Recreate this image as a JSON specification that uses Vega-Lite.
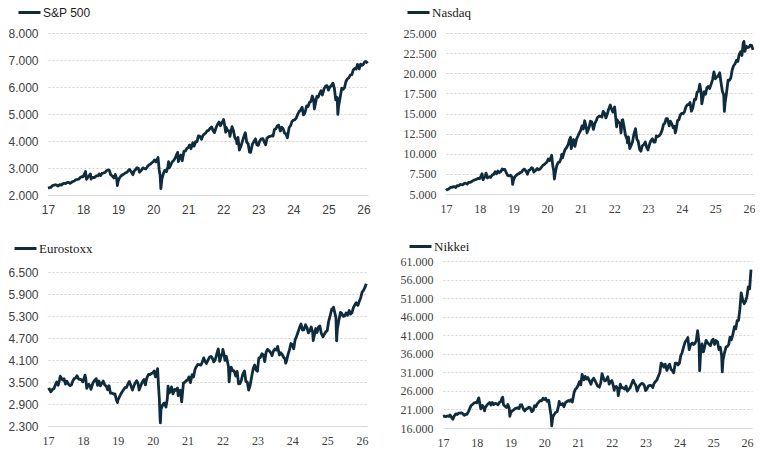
{
"$schema": "https://vega.github.io/schema/vega-lite/v6.json",
"padding": {"left": 7, "top": 0, "right": 0, "bottom": 0},
"background": "#ffffff",
"config": {
  "view": {"stroke": null},
  "locale": {"number": {"decimal": ",", "thousands": ".", "grouping": [3], "currency": ["", " €"]}},
  "axisX": {"grid": false, "ticks": false, "domain": true, "domainColor": "#d9d9d9", "domainWidth": 1, "labelFontSize": 12, "labelColor": "#404040", "labelPadding": 9, "title": null, "labelFlush": false, "values": [17,18,19,20,21,22,23,24,25,26], "format": "d"},
  "axisY": {"grid": true, "gridColor": "#d0d0d0", "gridDash": [2,2], "gridWidth": 1, "domain": false, "ticks": false, "labelFontSize": 12, "labelColor": "#404040", "labelPadding": 10, "title": null, "format": ",.0f"},
  "legend": {"orient": "none", "title": null, "symbolType": "stroke", "symbolSize": 484, "symbolStrokeWidth": 3, "labelOffset": 1, "labelColor": "#1a1a1a", "padding": 0, "labelFontSize": 13}
},
"datasets": {
"sp": [{"t":17,"v":2257},{"t":17.04,"v":2270},{"t":17.08,"v":2279},{"t":17.13,"v":2350},{"t":17.17,"v":2364},{"t":17.21,"v":2380},{"t":17.25,"v":2363},{"t":17.29,"v":2330},{"t":17.33,"v":2384},{"t":17.38,"v":2365},{"t":17.42,"v":2412},{"t":17.46,"v":2435},{"t":17.5,"v":2423},{"t":17.54,"v":2460},{"t":17.58,"v":2470},{"t":17.63,"v":2430},{"t":17.67,"v":2471},{"t":17.71,"v":2500},{"t":17.75,"v":2519},{"t":17.79,"v":2560},{"t":17.83,"v":2575},{"t":17.88,"v":2585},{"t":17.92,"v":2648},{"t":17.96,"v":2680},{"t":18,"v":2674},{"t":18.04,"v":2780},{"t":18.07,"v":2873},{"t":18.1,"v":2581},{"t":18.17,"v":2714},{"t":18.21,"v":2783},{"t":18.23,"v":2588},{"t":18.25,"v":2641},{"t":18.29,"v":2656},{"t":18.33,"v":2648},{"t":18.38,"v":2712},{"t":18.42,"v":2705},{"t":18.46,"v":2780},{"t":18.5,"v":2718},{"t":18.54,"v":2800},{"t":18.58,"v":2816},{"t":18.63,"v":2840},{"t":18.67,"v":2902},{"t":18.71,"v":2930},{"t":18.75,"v":2914},{"t":18.79,"v":2750},{"t":18.83,"v":2711},{"t":18.88,"v":2632},{"t":18.92,"v":2760},{"t":18.96,"v":2600},{"t":18.98,"v":2351},{"t":19,"v":2507},{"t":19.04,"v":2630},{"t":19.08,"v":2704},{"t":19.13,"v":2750},{"t":19.17,"v":2784},{"t":19.21,"v":2822},{"t":19.25,"v":2834},{"t":19.29,"v":2905},{"t":19.33,"v":2946},{"t":19.38,"v":2850},{"t":19.42,"v":2752},{"t":19.46,"v":2890},{"t":19.5,"v":2942},{"t":19.54,"v":3013},{"t":19.58,"v":2980},{"t":19.61,"v":2844},{"t":19.67,"v":2926},{"t":19.71,"v":3006},{"t":19.75,"v":2977},{"t":19.79,"v":2966},{"t":19.83,"v":3038},{"t":19.88,"v":3120},{"t":19.92,"v":3141},{"t":19.96,"v":3191},{"t":20,"v":3231},{"t":20.04,"v":3300},{"t":20.08,"v":3226},{"t":20.14,"v":3386},{"t":20.17,"v":2954},{"t":20.2,"v":2711},{"t":20.22,"v":2237},{"t":20.25,"v":2585},{"t":20.29,"v":2783},{"t":20.33,"v":2912},{"t":20.38,"v":2864},{"t":20.42,"v":3044},{"t":20.44,"v":3232},{"t":20.46,"v":3002},{"t":20.5,"v":3100},{"t":20.54,"v":3225},{"t":20.58,"v":3271},{"t":20.63,"v":3373},{"t":20.67,"v":3500},{"t":20.7,"v":3580},{"t":20.72,"v":3237},{"t":20.75,"v":3363},{"t":20.79,"v":3483},{"t":20.83,"v":3270},{"t":20.88,"v":3626},{"t":20.92,"v":3622},{"t":20.96,"v":3722},{"t":21,"v":3756},{"t":21.04,"v":3851},{"t":21.08,"v":3714},{"t":21.13,"v":3934},{"t":21.17,"v":3811},{"t":21.21,"v":3974},{"t":21.25,"v":3973},{"t":21.29,"v":4185},{"t":21.33,"v":4181},{"t":21.38,"v":4063},{"t":21.42,"v":4204},{"t":21.46,"v":4255},{"t":21.5,"v":4298},{"t":21.54,"v":4374},{"t":21.58,"v":4395},{"t":21.63,"v":4480},{"t":21.67,"v":4523},{"t":21.71,"v":4380},{"t":21.75,"v":4308},{"t":21.79,"v":4471},{"t":21.83,"v":4605},{"t":21.88,"v":4700},{"t":21.92,"v":4567},{"t":21.96,"v":4669},{"t":22,"v":4766},{"t":22.01,"v":4797},{"t":22.04,"v":4577},{"t":22.07,"v":4326},{"t":22.08,"v":4516},{"t":22.13,"v":4380},{"t":22.17,"v":4374},{"t":22.19,"v":4170},{"t":22.25,"v":4530},{"t":22.29,"v":4392},{"t":22.33,"v":4132},{"t":22.38,"v":4008},{"t":22.39,"v":3900},{"t":22.42,"v":4132},{"t":22.46,"v":3667},{"t":22.5,"v":3785},{"t":22.54,"v":3960},{"t":22.58,"v":4130},{"t":22.63,"v":4305},{"t":22.67,"v":3955},{"t":22.71,"v":3900},{"t":22.75,"v":3586},{"t":22.78,"v":3577},{"t":22.83,"v":3872},{"t":22.88,"v":3992},{"t":22.92,"v":4080},{"t":22.96,"v":3852},{"t":23,"v":3840},{"t":23.04,"v":3999},{"t":23.08,"v":4077},{"t":23.13,"v":4090},{"t":23.17,"v":3970},{"t":23.21,"v":3860},{"t":23.25,"v":4109},{"t":23.29,"v":4151},{"t":23.33,"v":4169},{"t":23.38,"v":4198},{"t":23.42,"v":4180},{"t":23.46,"v":4425},{"t":23.5,"v":4450},{"t":23.54,"v":4555},{"t":23.58,"v":4589},{"t":23.63,"v":4370},{"t":23.67,"v":4508},{"t":23.71,"v":4450},{"t":23.75,"v":4288},{"t":23.79,"v":4270},{"t":23.83,"v":4117},{"t":23.88,"v":4500},{"t":23.92,"v":4568},{"t":23.96,"v":4719},{"t":24,"v":4770},{"t":24.04,"v":4783},{"t":24.08,"v":4846},{"t":24.13,"v":5005},{"t":24.17,"v":5096},{"t":24.21,"v":5150},{"t":24.25,"v":5254},{"t":24.29,"v":4967},{"t":24.33,"v":5036},{"t":24.38,"v":5300},{"t":24.42,"v":5278},{"t":24.46,"v":5430},{"t":24.5,"v":5460},{"t":24.54,"v":5667},{"t":24.58,"v":5522},{"t":24.6,"v":5186},{"t":24.67,"v":5648},{"t":24.71,"v":5626},{"t":24.75,"v":5762},{"t":24.79,"v":5860},{"t":24.83,"v":5705},{"t":24.88,"v":5949},{"t":24.92,"v":6032},{"t":24.96,"v":6050},{"t":25,"v":5882},{"t":25.04,"v":5996},{"t":25.08,"v":6041},{"t":25.13,"v":6144},{"t":25.17,"v":5955},{"t":25.21,"v":5521},{"t":25.25,"v":5612},{"t":25.27,"v":4983},{"t":25.29,"v":5282},{"t":25.33,"v":5569},{"t":25.38,"v":5958},{"t":25.42,"v":5912},{"t":25.46,"v":5977},{"t":25.5,"v":6205},{"t":25.54,"v":6297},{"t":25.58,"v":6339},{"t":25.63,"v":6449},{"t":25.67,"v":6460},{"t":25.71,"v":6631},{"t":25.75,"v":6688},{"t":25.79,"v":6664},{"t":25.83,"v":6840},{"t":25.88,"v":6672},{"t":25.92,"v":6849},{"t":25.96,"v":6800},{"t":26,"v":6845},{"t":26.04,"v":6940},{"t":26.08,"v":6939},{"t":26.12,"v":6880}],
"nq": [{"t":17,"v":5429},{"t":17.04,"v":5575},{"t":17.08,"v":5615},{"t":17.13,"v":5820},{"t":17.17,"v":5825},{"t":17.21,"v":5900},{"t":17.25,"v":5912},{"t":17.29,"v":5805},{"t":17.33,"v":6048},{"t":17.38,"v":6011},{"t":17.42,"v":6199},{"t":17.46,"v":6152},{"t":17.5,"v":6140},{"t":17.54,"v":6314},{"t":17.58,"v":6348},{"t":17.63,"v":6222},{"t":17.67,"v":6429},{"t":17.71,"v":6448},{"t":17.75,"v":6496},{"t":17.79,"v":6624},{"t":17.83,"v":6728},{"t":17.88,"v":6793},{"t":17.92,"v":6874},{"t":17.96,"v":6936},{"t":18,"v":6903},{"t":18.04,"v":7223},{"t":18.07,"v":7506},{"t":18.1,"v":6777},{"t":18.17,"v":7273},{"t":18.19,"v":7588},{"t":18.23,"v":6993},{"t":18.25,"v":7063},{"t":18.29,"v":7146},{"t":18.33,"v":7066},{"t":18.38,"v":7398},{"t":18.42,"v":7442},{"t":18.46,"v":7761},{"t":18.5,"v":7510},{"t":18.54,"v":7855},{"t":18.58,"v":7672},{"t":18.63,"v":7774},{"t":18.67,"v":8110},{"t":18.71,"v":8028},{"t":18.75,"v":8046},{"t":18.79,"v":7645},{"t":18.83,"v":7306},{"t":18.88,"v":7247},{"t":18.92,"v":7331},{"t":18.96,"v":7100},{"t":18.98,"v":6193},{"t":19,"v":6635},{"t":19.04,"v":7085},{"t":19.08,"v":7282},{"t":19.13,"v":7472},{"t":19.17,"v":7533},{"t":19.21,"v":7688},{"t":19.25,"v":7729},{"t":19.29,"v":8000},{"t":19.33,"v":8095},{"t":19.38,"v":7822},{"t":19.42,"v":7453},{"t":19.46,"v":7953},{"t":19.5,"v":8006},{"t":19.54,"v":8258},{"t":19.58,"v":8175},{"t":19.61,"v":7726},{"t":19.67,"v":7963},{"t":19.71,"v":8169},{"t":19.75,"v":7999},{"t":19.79,"v":8089},{"t":19.83,"v":8292},{"t":19.88,"v":8570},{"t":19.92,"v":8665},{"t":19.96,"v":8827},{"t":20,"v":8973},{"t":20.04,"v":9357},{"t":20.08,"v":9151},{"t":20.14,"v":9817},{"t":20.17,"v":8567},{"t":20.2,"v":7874},{"t":20.22,"v":6861},{"t":20.25,"v":7700},{"t":20.29,"v":8515},{"t":20.33,"v":8890},{"t":20.38,"v":9014},{"t":20.42,"v":9490},{"t":20.44,"v":9924},{"t":20.46,"v":9493},{"t":20.5,"v":10059},{"t":20.54,"v":10550},{"t":20.58,"v":10745},{"t":20.63,"v":11146},{"t":20.67,"v":11775},{"t":20.7,"v":12056},{"t":20.72,"v":10633},{"t":20.75,"v":11168},{"t":20.79,"v":11768},{"t":20.83,"v":10912},{"t":20.88,"v":11854},{"t":20.92,"v":12199},{"t":20.96,"v":12595},{"t":21,"v":12888},{"t":21.04,"v":13457},{"t":21.08,"v":13071},{"t":21.12,"v":14095},{"t":21.17,"v":13192},{"t":21.19,"v":12609},{"t":21.25,"v":13247},{"t":21.29,"v":14038},{"t":21.33,"v":13962},{"t":21.38,"v":13032},{"t":21.42,"v":13749},{"t":21.46,"v":14072},{"t":21.5,"v":14504},{"t":21.54,"v":14644},{"t":21.58,"v":14673},{"t":21.63,"v":14542},{"t":21.67,"v":15259},{"t":21.71,"v":15052},{"t":21.75,"v":14449},{"t":21.79,"v":14897},{"t":21.83,"v":15498},{"t":21.88,"v":16057},{"t":21.92,"v":15538},{"t":21.96,"v":15180},{"t":22,"v":15645},{"t":22.01,"v":15832},{"t":22.04,"v":14506},{"t":22.07,"v":13352},{"t":22.08,"v":14240},{"t":22.13,"v":13900},{"t":22.17,"v":13751},{"t":22.2,"v":12581},{"t":22.23,"v":14191},{"t":22.25,"v":14221},{"t":22.29,"v":13351},{"t":22.33,"v":12335},{"t":22.38,"v":11805},{"t":22.39,"v":11354},{"t":22.42,"v":12081},{"t":22.46,"v":10646},{"t":22.5,"v":11029},{"t":22.54,"v":11452},{"t":22.58,"v":12391},{"t":22.63,"v":13128},{"t":22.67,"v":11816},{"t":22.71,"v":11552},{"t":22.75,"v":10576},{"t":22.79,"v":10321},{"t":22.83,"v":10988},{"t":22.88,"v":11146},{"t":22.92,"v":11468},{"t":22.96,"v":10811},{"t":23,"v":10466},{"t":23.04,"v":11079},{"t":23.08,"v":11584},{"t":23.13,"v":11855},{"t":23.17,"v":11456},{"t":23.21,"v":11434},{"t":23.25,"v":12222},{"t":23.29,"v":12124},{"t":23.33,"v":12227},{"t":23.38,"v":12500},{"t":23.42,"v":12935},{"t":23.46,"v":13626},{"t":23.5,"v":13788},{"t":23.54,"v":14358},{"t":23.58,"v":14346},{"t":23.63,"v":13474},{"t":23.67,"v":14035},{"t":23.71,"v":13708},{"t":23.75,"v":13219},{"t":23.79,"v":13407},{"t":23.81,"v":12595},{"t":23.83,"v":12851},{"t":23.88,"v":14125},{"t":23.92,"v":14226},{"t":23.96,"v":14813},{"t":24,"v":15011},{"t":24.04,"v":14972},{"t":24.08,"v":15164},{"t":24.13,"v":15859},{"t":24.17,"v":16092},{"t":24.21,"v":16103},{"t":24.25,"v":16379},{"t":24.29,"v":15282},{"t":24.33,"v":15658},{"t":24.38,"v":16742},{"t":24.42,"v":16735},{"t":24.46,"v":17668},{"t":24.5,"v":17733},{"t":24.54,"v":18647},{"t":24.58,"v":17599},{"t":24.6,"v":16200},{"t":24.67,"v":17714},{"t":24.71,"v":17395},{"t":24.75,"v":18189},{"t":24.79,"v":18367},{"t":24.83,"v":18095},{"t":24.88,"v":18680},{"t":24.92,"v":19218},{"t":24.96,"v":20173},{"t":25,"v":19311},{"t":25.04,"v":19511},{"t":25.08,"v":19627},{"t":25.13,"v":20056},{"t":25.17,"v":18847},{"t":25.21,"v":17754},{"t":25.25,"v":17299},{"t":25.27,"v":15268},{"t":25.29,"v":16286},{"t":25.33,"v":17446},{"t":25.38,"v":19146},{"t":25.42,"v":19114},{"t":25.46,"v":19406},{"t":25.5,"v":20370},{"t":25.54,"v":20896},{"t":25.58,"v":21122},{"t":25.63,"v":21623},{"t":25.67,"v":21456},{"t":25.71,"v":22348},{"t":25.75,"v":22660},{"t":25.79,"v":22204},{"t":25.83,"v":23725},{"t":25.85,"v":23958},{"t":25.88,"v":22708},{"t":25.92,"v":23366},{"t":25.96,"v":23195},{"t":26,"v":23242},{"t":26.04,"v":23500},{"t":26.08,"v":23462},{"t":26.12,"v":22900}],
"es": [{"t":17,"v":3290},{"t":17.04,"v":3310},{"t":17.08,"v":3231},{"t":17.13,"v":3300},{"t":17.17,"v":3319},{"t":17.21,"v":3420},{"t":17.25,"v":3500},{"t":17.29,"v":3410},{"t":17.33,"v":3560},{"t":17.35,"v":3658},{"t":17.42,"v":3555},{"t":17.46,"v":3590},{"t":17.5,"v":3442},{"t":17.54,"v":3525},{"t":17.58,"v":3449},{"t":17.63,"v":3400},{"t":17.67,"v":3421},{"t":17.71,"v":3525},{"t":17.75,"v":3595},{"t":17.79,"v":3605},{"t":17.83,"v":3674},{"t":17.88,"v":3580},{"t":17.92,"v":3570},{"t":17.96,"v":3560},{"t":18,"v":3504},{"t":18.06,"v":3687},{"t":18.08,"v":3609},{"t":18.11,"v":3329},{"t":18.17,"v":3439},{"t":18.21,"v":3390},{"t":18.23,"v":3297},{"t":18.25,"v":3362},{"t":18.29,"v":3480},{"t":18.33,"v":3537},{"t":18.38,"v":3592},{"t":18.42,"v":3406},{"t":18.46,"v":3527},{"t":18.5,"v":3396},{"t":18.54,"v":3460},{"t":18.58,"v":3525},{"t":18.63,"v":3410},{"t":18.67,"v":3393},{"t":18.71,"v":3290},{"t":18.75,"v":3399},{"t":18.79,"v":3194},{"t":18.83,"v":3198},{"t":18.88,"v":3171},{"t":18.92,"v":3173},{"t":18.96,"v":3010},{"t":18.99,"v":2938},{"t":19,"v":3001},{"t":19.04,"v":3080},{"t":19.08,"v":3159},{"t":19.13,"v":3240},{"t":19.17,"v":3298},{"t":19.21,"v":3350},{"t":19.25,"v":3352},{"t":19.29,"v":3447},{"t":19.33,"v":3514},{"t":19.38,"v":3390},{"t":19.42,"v":3280},{"t":19.46,"v":3391},{"t":19.5,"v":3474},{"t":19.54,"v":3535},{"t":19.58,"v":3467},{"t":19.61,"v":3282},{"t":19.67,"v":3427},{"t":19.71,"v":3510},{"t":19.75,"v":3569},{"t":19.79,"v":3420},{"t":19.83,"v":3604},{"t":19.88,"v":3709},{"t":19.92,"v":3703},{"t":19.96,"v":3731},{"t":20,"v":3745},{"t":20.04,"v":3800},{"t":20.08,"v":3640},{"t":20.14,"v":3865},{"t":20.17,"v":3329},{"t":20.19,"v":3050},{"t":20.21,"v":2546},{"t":20.22,"v":2386},{"t":20.24,"v":2800},{"t":20.25,"v":2787},{"t":20.29,"v":2888},{"t":20.33,"v":2928},{"t":20.38,"v":2820},{"t":20.42,"v":3050},{"t":20.44,"v":3384},{"t":20.46,"v":3190},{"t":20.5,"v":3234},{"t":20.54,"v":3365},{"t":20.58,"v":3174},{"t":20.63,"v":3300},{"t":20.67,"v":3273},{"t":20.71,"v":3338},{"t":20.73,"v":3130},{"t":20.75,"v":3194},{"t":20.79,"v":3273},{"t":20.83,"v":2958},{"t":20.88,"v":3472},{"t":20.92,"v":3493},{"t":20.96,"v":3540},{"t":21,"v":3553},{"t":21.04,"v":3640},{"t":21.08,"v":3481},{"t":21.13,"v":3700},{"t":21.17,"v":3636},{"t":21.21,"v":3837},{"t":21.25,"v":3919},{"t":21.29,"v":3978},{"t":21.33,"v":3975},{"t":21.38,"v":3960},{"t":21.42,"v":4039},{"t":21.46,"v":4158},{"t":21.5,"v":4064},{"t":21.54,"v":4004},{"t":21.58,"v":4089},{"t":21.63,"v":4180},{"t":21.67,"v":4196},{"t":21.71,"v":4150},{"t":21.75,"v":4048},{"t":21.79,"v":4100},{"t":21.83,"v":4250},{"t":21.88,"v":4400},{"t":21.92,"v":4063},{"t":21.96,"v":4200},{"t":22,"v":4298},{"t":22.01,"v":4392},{"t":22.04,"v":4270},{"t":22.07,"v":4088},{"t":22.08,"v":4174},{"t":22.11,"v":4200},{"t":22.17,"v":3924},{"t":22.19,"v":3505},{"t":22.23,"v":3890},{"t":22.25,"v":3903},{"t":22.29,"v":3810},{"t":22.33,"v":3803},{"t":22.38,"v":3660},{"t":22.42,"v":3789},{"t":22.46,"v":3450},{"t":22.5,"v":3455},{"t":22.54,"v":3550},{"t":22.58,"v":3708},{"t":22.63,"v":3800},{"t":22.67,"v":3517},{"t":22.71,"v":3500},{"t":22.75,"v":3280},{"t":22.79,"v":3400},{"t":22.83,"v":3618},{"t":22.88,"v":3870},{"t":22.92,"v":3965},{"t":22.96,"v":3830},{"t":23,"v":3794},{"t":23.04,"v":4150},{"t":23.08,"v":4163},{"t":23.13,"v":4270},{"t":23.17,"v":4238},{"t":23.21,"v":4056},{"t":23.25,"v":4315},{"t":23.29,"v":4390},{"t":23.33,"v":4359},{"t":23.38,"v":4300},{"t":23.42,"v":4218},{"t":23.46,"v":4350},{"t":23.5,"v":4399},{"t":23.54,"v":4370},{"t":23.58,"v":4471},{"t":23.63,"v":4237},{"t":23.67,"v":4297},{"t":23.71,"v":4250},{"t":23.75,"v":4175},{"t":23.79,"v":4130},{"t":23.81,"v":4014},{"t":23.83,"v":4061},{"t":23.88,"v":4260},{"t":23.92,"v":4382},{"t":23.96,"v":4550},{"t":24,"v":4521},{"t":24.04,"v":4403},{"t":24.08,"v":4648},{"t":24.13,"v":4770},{"t":24.17,"v":4878},{"t":24.21,"v":4990},{"t":24.25,"v":5083},{"t":24.29,"v":4918},{"t":24.33,"v":4921},{"t":24.38,"v":5060},{"t":24.42,"v":4983},{"t":24.46,"v":4840},{"t":24.5,"v":4894},{"t":24.54,"v":5000},{"t":24.58,"v":4873},{"t":24.6,"v":4630},{"t":24.67,"v":4958},{"t":24.71,"v":4850},{"t":24.75,"v":5000},{"t":24.79,"v":5030},{"t":24.83,"v":4828},{"t":24.88,"v":4730},{"t":24.92,"v":4804},{"t":24.96,"v":4870},{"t":25,"v":4896},{"t":25.04,"v":5150},{"t":25.08,"v":5287},{"t":25.13,"v":5490},{"t":25.17,"v":5463},{"t":25.18,"v":5540},{"t":25.21,"v":5420},{"t":25.25,"v":5248},{"t":25.27,"v":4622},{"t":25.29,"v":4935},{"t":25.33,"v":5161},{"t":25.38,"v":5400},{"t":25.42,"v":5367},{"t":25.46,"v":5290},{"t":25.5,"v":5303},{"t":25.54,"v":5380},{"t":25.58,"v":5320},{"t":25.63,"v":5450},{"t":25.67,"v":5351},{"t":25.71,"v":5390},{"t":25.75,"v":5530},{"t":25.79,"v":5600},{"t":25.83,"v":5662},{"t":25.88,"v":5590},{"t":25.92,"v":5700},{"t":25.96,"v":5800},{"t":26,"v":5950},{"t":26.04,"v":6000},{"t":26.08,"v":6080},{"t":26.12,"v":6180}],
"nk": [{"t":17,"v":19114},{"t":17.04,"v":19200},{"t":17.08,"v":19041},{"t":17.13,"v":19240},{"t":17.17,"v":19119},{"t":17.21,"v":19500},{"t":17.25,"v":18909},{"t":17.29,"v":18336},{"t":17.33,"v":19197},{"t":17.38,"v":19814},{"t":17.42,"v":19650},{"t":17.46,"v":20000},{"t":17.5,"v":20033},{"t":17.54,"v":20100},{"t":17.58,"v":19925},{"t":17.63,"v":19450},{"t":17.67,"v":19646},{"t":17.71,"v":19700},{"t":17.75,"v":20356},{"t":17.79,"v":21200},{"t":17.83,"v":22012},{"t":17.88,"v":22400},{"t":17.92,"v":22725},{"t":17.96,"v":22900},{"t":18,"v":22765},{"t":18.06,"v":24124},{"t":18.08,"v":23098},{"t":18.12,"v":21150},{"t":18.17,"v":22068},{"t":18.21,"v":21500},{"t":18.23,"v":20617},{"t":18.25,"v":21454},{"t":18.29,"v":22000},{"t":18.33,"v":22468},{"t":18.38,"v":22900},{"t":18.42,"v":22202},{"t":18.46,"v":22850},{"t":18.5,"v":22305},{"t":18.54,"v":22600},{"t":18.58,"v":22554},{"t":18.63,"v":22270},{"t":18.67,"v":22865},{"t":18.71,"v":23094},{"t":18.75,"v":24120},{"t":18.77,"v":24271},{"t":18.79,"v":22300},{"t":18.83,"v":21920},{"t":18.88,"v":21500},{"t":18.92,"v":22351},{"t":18.96,"v":21400},{"t":18.98,"v":19155},{"t":19,"v":20015},{"t":19.04,"v":20600},{"t":19.08,"v":20773},{"t":19.13,"v":21200},{"t":19.17,"v":21385},{"t":19.21,"v":21450},{"t":19.25,"v":21206},{"t":19.29,"v":22200},{"t":19.33,"v":22259},{"t":19.38,"v":21100},{"t":19.42,"v":20601},{"t":19.46,"v":21100},{"t":19.5,"v":21276},{"t":19.54,"v":21600},{"t":19.58,"v":21522},{"t":19.63,"v":20400},{"t":19.67,"v":20704},{"t":19.71,"v":22000},{"t":19.75,"v":21756},{"t":19.79,"v":22500},{"t":19.83,"v":22927},{"t":19.88,"v":23400},{"t":19.92,"v":23294},{"t":19.96,"v":24000},{"t":20,"v":23657},{"t":20.04,"v":24000},{"t":20.08,"v":23205},{"t":20.13,"v":23500},{"t":20.17,"v":21143},{"t":20.2,"v":19400},{"t":20.22,"v":16553},{"t":20.25,"v":18917},{"t":20.29,"v":19600},{"t":20.33,"v":20194},{"t":20.38,"v":20400},{"t":20.42,"v":21878},{"t":20.44,"v":23178},{"t":20.46,"v":22300},{"t":20.5,"v":22288},{"t":20.54,"v":22600},{"t":20.58,"v":21710},{"t":20.63,"v":22900},{"t":20.67,"v":23140},{"t":20.71,"v":23400},{"t":20.75,"v":23185},{"t":20.79,"v":23600},{"t":20.83,"v":22977},{"t":20.88,"v":25500},{"t":20.92,"v":26434},{"t":20.96,"v":26800},{"t":21,"v":27444},{"t":21.04,"v":28500},{"t":21.08,"v":27663},{"t":21.12,"v":30467},{"t":21.17,"v":28966},{"t":21.21,"v":29900},{"t":21.25,"v":29179},{"t":21.29,"v":29600},{"t":21.33,"v":28813},{"t":21.38,"v":27800},{"t":21.42,"v":28860},{"t":21.46,"v":29400},{"t":21.5,"v":28792},{"t":21.54,"v":28000},{"t":21.58,"v":27284},{"t":21.63,"v":27000},{"t":21.67,"v":28090},{"t":21.71,"v":30670},{"t":21.75,"v":29453},{"t":21.79,"v":28700},{"t":21.83,"v":28893},{"t":21.88,"v":29800},{"t":21.92,"v":27822},{"t":21.96,"v":28500},{"t":22,"v":28792},{"t":22.04,"v":27500},{"t":22.07,"v":26170},{"t":22.08,"v":27002},{"t":22.13,"v":27200},{"t":22.17,"v":26527},{"t":22.19,"v":24718},{"t":22.25,"v":27821},{"t":22.29,"v":26800},{"t":22.33,"v":26848},{"t":22.38,"v":26500},{"t":22.42,"v":27280},{"t":22.46,"v":25963},{"t":22.5,"v":26393},{"t":22.54,"v":26800},{"t":22.58,"v":27802},{"t":22.63,"v":28900},{"t":22.67,"v":28092},{"t":22.71,"v":27500},{"t":22.75,"v":25937},{"t":22.79,"v":27000},{"t":22.83,"v":27587},{"t":22.88,"v":28000},{"t":22.92,"v":27969},{"t":22.96,"v":27500},{"t":23,"v":26095},{"t":23.04,"v":26500},{"t":23.08,"v":27327},{"t":23.13,"v":27500},{"t":23.17,"v":27446},{"t":23.21,"v":26900},{"t":23.25,"v":28041},{"t":23.29,"v":28500},{"t":23.33,"v":28856},{"t":23.38,"v":30000},{"t":23.42,"v":30888},{"t":23.46,"v":33500},{"t":23.5,"v":33189},{"t":23.54,"v":32400},{"t":23.58,"v":33172},{"t":23.63,"v":31500},{"t":23.67,"v":32619},{"t":23.71,"v":33200},{"t":23.75,"v":31858},{"t":23.79,"v":31500},{"t":23.83,"v":30859},{"t":23.88,"v":33500},{"t":23.92,"v":33487},{"t":23.96,"v":33000},{"t":24,"v":33464},{"t":24.04,"v":35500},{"t":24.08,"v":36287},{"t":24.13,"v":38000},{"t":24.17,"v":39166},{"t":24.21,"v":39700},{"t":24.25,"v":40369},{"t":24.29,"v":37100},{"t":24.33,"v":38406},{"t":24.38,"v":38900},{"t":24.42,"v":38488},{"t":24.46,"v":38800},{"t":24.5,"v":39583},{"t":24.54,"v":42224},{"t":24.58,"v":39102},{"t":24.6,"v":31458},{"t":24.63,"v":36500},{"t":24.67,"v":38648},{"t":24.71,"v":36500},{"t":24.75,"v":37920},{"t":24.79,"v":39600},{"t":24.83,"v":39081},{"t":24.88,"v":38500},{"t":24.92,"v":38208},{"t":24.96,"v":39500},{"t":25,"v":39895},{"t":25.04,"v":38500},{"t":25.08,"v":39572},{"t":25.13,"v":39200},{"t":25.17,"v":37156},{"t":25.21,"v":37800},{"t":25.25,"v":35618},{"t":25.27,"v":31136},{"t":25.29,"v":34200},{"t":25.33,"v":36045},{"t":25.38,"v":37800},{"t":25.42,"v":37965},{"t":25.46,"v":38500},{"t":25.5,"v":40487},{"t":25.54,"v":39800},{"t":25.58,"v":41069},{"t":25.63,"v":43300},{"t":25.67,"v":42718},{"t":25.71,"v":44900},{"t":25.75,"v":44933},{"t":25.79,"v":47900},{"t":25.83,"v":52411},{"t":25.88,"v":50300},{"t":25.92,"v":49500},{"t":25.96,"v":50200},{"t":26,"v":51500},{"t":26.04,"v":54000},{"t":26.08,"v":53500},{"t":26.12,"v":58700}]
},
"spacing": 19,
"resolve": {"scale": {"color": "independent", "x": "independent", "y": "independent"}, "legend": {"color": "independent"}},
"vconcat": [
 {"bounds": "flush", "spacing": 78,
  "resolve": {"scale": {"color": "independent", "x": "independent", "y": "independent"}, "legend": {"color": "independent"}},
  "hconcat": [
  {"data": {"name": "sp"}, "width": 320, "height": 162,
   "mark": {"type": "line", "strokeWidth": 2.8, "strokeJoin": "round"},
   "encoding": {
    "x": {"field": "t", "type": "quantitative", "scale": {"domain": [17, 26.13], "nice": false, "zero": false}, "axis": {"labelFont": "Liberation Sans"}},
    "y": {"field": "v", "type": "quantitative", "scale": {"domain": [2000, 8000], "nice": false, "zero": false}, "axis": {"values": [2000,3000,4000,5000,6000,7000,8000], "labelFont": "Liberation Sans"}},
    "color": {"datum": "S&P 500", "scale": {"range": ["#0f2c3d"]}, "legend": {"legendX": -31, "legendY": -33, "labelFont": "Liberation Sans", "labelFontSize": 12}}
   }},
  {"data": {"name": "nq"}, "width": 308, "height": 161,
   "mark": {"type": "line", "strokeWidth": 2.8, "strokeJoin": "round"},
   "encoding": {
    "x": {"field": "t", "type": "quantitative", "scale": {"domain": [17, 26.15], "nice": false, "zero": false}, "axis": {"labelFont": "Liberation Serif"}},
    "y": {"field": "v", "type": "quantitative", "scale": {"domain": [5000, 25000], "nice": false, "zero": false}, "axis": {"values": [5000,7500,10000,12500,15000,17500,20000,22500,25000], "labelFont": "Liberation Serif"}},
    "color": {"datum": "Nasdaq", "scale": {"range": ["#0f2c3d"]}, "legend": {"legendX": -40, "legendY": -33, "labelFont": "Liberation Serif"}}
   }}
 ]},
 {"bounds": "flush", "spacing": 76,
  "resolve": {"scale": {"color": "independent", "x": "independent", "y": "independent"}, "legend": {"color": "independent"}},
  "hconcat": [
  {"data": {"name": "es"}, "width": 319, "height": 165,
   "mark": {"type": "line", "strokeWidth": 2.8, "strokeJoin": "round"},
   "encoding": {
    "x": {"field": "t", "type": "quantitative", "scale": {"domain": [17, 26.14], "nice": false, "zero": false}, "axis": {"labelFont": "Liberation Serif"}},
    "y": {"field": "v", "type": "quantitative", "scale": {"domain": [2300, 6800], "nice": false, "zero": false}, "axis": {"values": [2300,2900,3500,4100,4700,5300,5900,6500], "labelFont": "Liberation Sans"}},
    "color": {"datum": "Eurostoxx", "scale": {"range": ["#0f2c3d"]}, "legend": {"legendX": -35, "legendY": -25, "labelFont": "Liberation Serif"}}
   }},
  {"data": {"name": "nk"}, "width": 309, "height": 167,
   "mark": {"type": "line", "strokeWidth": 2.8, "strokeJoin": "round"},
   "encoding": {
    "x": {"field": "t", "type": "quantitative", "scale": {"domain": [17, 26.15], "nice": false, "zero": false}, "axis": {"labelFont": "Liberation Serif"}},
    "y": {"field": "v", "type": "quantitative", "scale": {"domain": [16000, 61000], "nice": false, "zero": false}, "axis": {"values": [16000,21000,26000,31000,36000,41000,46000,51000,56000,61000], "labelFont": "Liberation Serif"}},
    "color": {"datum": "Nikkei", "scale": {"range": ["#0f2c3d"]}, "legend": {"legendX": -35, "legendY": -27, "labelFont": "Liberation Serif"}}
   }}
 ]}
]
}
